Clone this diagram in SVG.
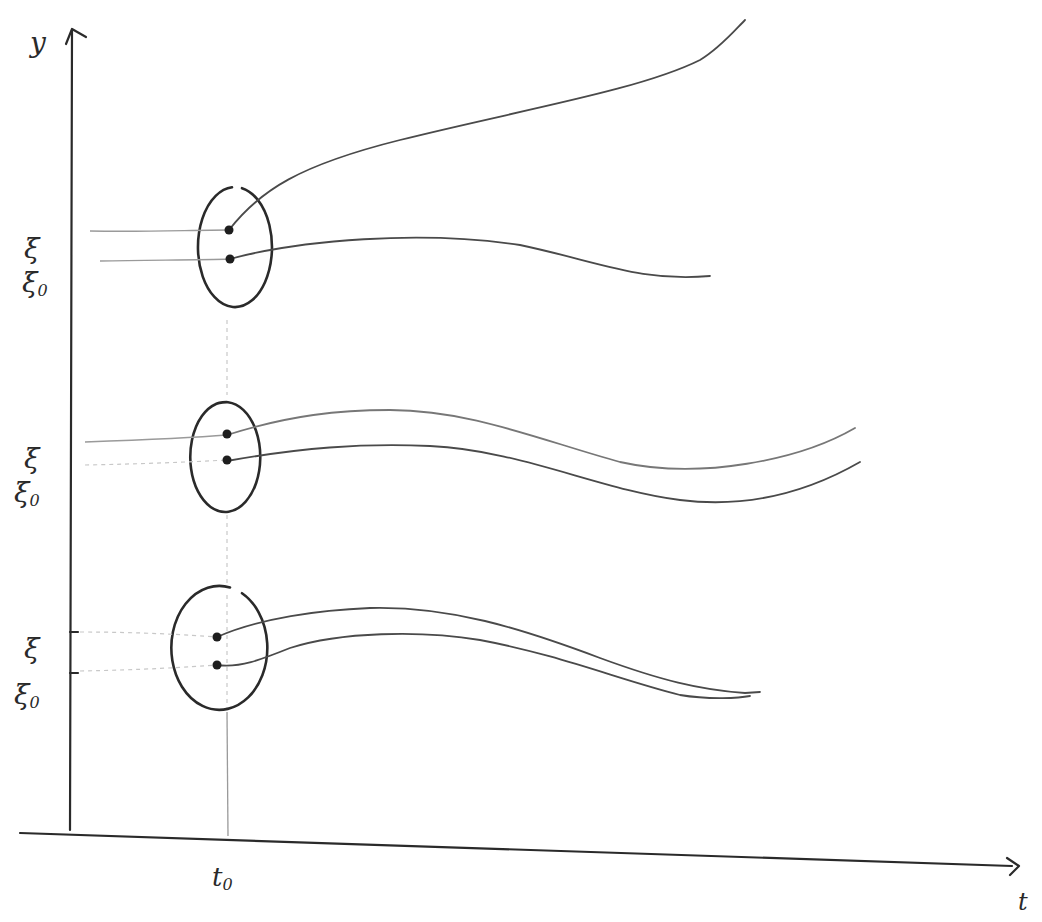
<svg xmlns="http://www.w3.org/2000/svg" width="1042" height="922" viewBox="0 0 1042 922">
<style>
.axis{fill:none;stroke:#2a2a2a;stroke-width:2.2;stroke-linecap:round;stroke-linejoin:round}
.ell{fill:none;stroke:#2a2a2a;stroke-width:2.6;stroke-linecap:round}
.traj{fill:none;stroke:#4a4a4a;stroke-width:1.8;stroke-linecap:round}
.trajl{fill:none;stroke:#777;stroke-width:1.8;stroke-linecap:round}
.guide{fill:none;stroke:#9a9a9a;stroke-width:1.3}
.faint{fill:none;stroke:#c8c8c8;stroke-width:1.2;stroke-dasharray:4 4}
.dot{fill:#1e1e1e}
.lbl{font-family:"DejaVu Serif","Liberation Serif",serif;font-style:italic;fill:#2a2a2a}
</style>
<rect width="1042" height="922" fill="#fff"/>
<g id="axes">
<path class="axis" d="M70,830 L72,30"/>
<path class="axis" d="M66,44 L72,29 L86,37"/>
<path class="axis" d="M20,833 L1012,866"/>
<path class="axis" d="M1007,858 L1019,866 L1010,875"/>
<path class="axis" d="M70,632 L78,632 M70,673 L78,673"/>
<text class="lbl" x="30" y="52" font-size="28">y</text>
<text class="lbl" x="1018" y="910" font-size="24">t</text>
<text class="lbl" x="212" y="886" font-size="26">t<tspan font-size="16" dy="4">0</tspan></text>
</g>
<g id="guides">
<path class="faint" d="M227,320 L227,395 M227,515 L227,585"/>
<path class="guide" d="M227,712 L228,836"/>
<path class="faint" d="M227,595 L227,710"/>
</g>
<g id="group1">
<path class="ell" d="M232,187.3 A37,60 0 1,0 242,188.2"/>
<path class="guide" d="M90,231 C150,232 190,230 229,230"/>
<path class="guide" d="M100,261 C150,260 200,260 230,259"/>
<path class="traj" d="M229,230 C260,190 300,165 400,140 C520,110 640,90 700,60 C720,48 735,30 745,20"/>
<path class="traj" d="M230,259 C300,240 420,230 520,245 C600,262 640,282 710,276"/>
<circle class="dot" cx="229" cy="230" r="4.5"/>
<circle class="dot" cx="230" cy="259" r="4.5"/>
<text class="lbl" x="24" y="258" font-size="28">ξ</text>
<text class="lbl" x="22" y="292" font-size="28">ξ<tspan font-size="16" dy="4">0</tspan></text>
</g>
<g id="group2">
<path class="ell" d="M216,404 A35,55 0 1,0 228,402.2 C222,402 218,402.5 214,405"/>
<path class="guide" d="M85,442 C140,440 190,438 227,435"/>
<path class="faint" d="M85,465 C140,464 190,462 227,460"/>
<path class="trajl" d="M227,435 C290,415 340,410 390,410 C470,410 540,440 620,462 C700,480 800,460 855,428"/>
<path class="traj" d="M227,461 C300,448 360,443 430,446 C520,450 600,490 680,500 C760,510 820,485 860,462"/>
<circle class="dot" cx="227" cy="434" r="4.5"/>
<circle class="dot" cx="227" cy="460" r="4.5"/>
<text class="lbl" x="24" y="468" font-size="28">ξ</text>
<text class="lbl" x="14" y="502" font-size="28">ξ<tspan font-size="16" dy="4">0</tspan></text>
</g>
<g id="group3">
<path class="ell" d="M230,587.4 A48,62 0 1,0 242,593.2"/>
<path class="faint" d="M80,632 C140,632 190,635 217,637"/>
<path class="faint" d="M80,671 C140,670 190,667 217,665"/>
<path class="traj" d="M217,637 C260,618 320,610 370,608 C450,606 520,628 600,658 C660,680 700,690 745,693 L760,692"/>
<path class="traj" d="M217,665 C240,668 260,660 290,648 C340,632 420,630 480,640 C560,655 620,680 680,695 C710,700 740,698 750,696"/>
<circle class="dot" cx="217" cy="637" r="4.5"/>
<circle class="dot" cx="217" cy="665" r="4.5"/>
<text class="lbl" x="24" y="658" font-size="28">ξ</text>
<text class="lbl" x="14" y="704" font-size="28">ξ<tspan font-size="16" dy="4">0</tspan></text>
</g>
</svg>
